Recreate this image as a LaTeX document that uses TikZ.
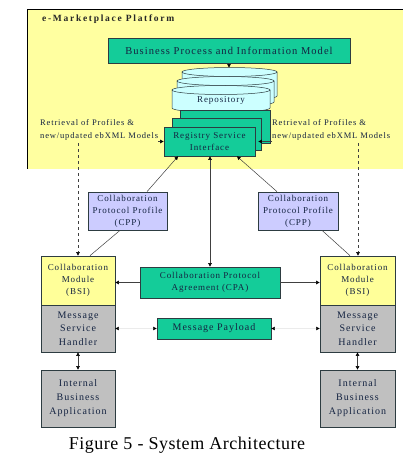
\documentclass[tikz,border=0pt]{standalone}
\usepackage{fontspec}
\setmainfont{Liberation Serif}
\newfontfamily\lab[LetterSpace=10]{Liberation Serif}
\newfontfamily\titlefont[LetterSpace=18]{Liberation Serif}
\newfontfamily\capfont[LetterSpace=3]{Liberation Serif}
\usetikzlibrary{arrows.meta}
\definecolor{ybg}{RGB}{255,255,160}
\definecolor{ybox}{RGB}{255,255,153}
\definecolor{teal}{RGB}{20,204,153}
\definecolor{cyl}{RGB}{204,255,255}
\definecolor{lav}{RGB}{204,204,255}
\definecolor{gbox}{RGB}{192,192,192}
\definecolor{txt}{RGB}{20,35,65}
\definecolor{bord}{RGB}{45,60,65}
\newcommand\drawcyl[4]{% x1 x2 ytop ybot
  \pgfmathsetmacro\cx{(#1+#2)/2}\pgfmathsetmacro\rx{(#2-#1)/2}
  \fill[cyl,draw=bord,line width=0.5pt] (#1,#3) -- (#1,#4) arc[start angle=180,end angle=360,x radius=\rx pt,y radius=4.5pt] -- (#2,#3) -- cycle;
  \fill[cyl,draw=bord,line width=0.5pt] (\cx,#3) ellipse[x radius=\rx pt,y radius=4.5pt];
}
\begin{document}
\begin{tikzpicture}[x=1pt,y=-1pt,
  box/.style={draw=bord,line width=0.7pt,inner sep=0pt,align=center,text=txt,
    font=\lab\fontsize{9}{12}\selectfont},
  tealbox/.style={box,fill=teal},
  ybx/.style={box,fill=ybox},
  gbx/.style={box,fill=gbox,font=\lab\fontsize{10}{13.5}\selectfont},
  lavbox/.style={box,fill=lav},
  arr/.style={draw=black!75,line width=0.5pt,-{Triangle[length=3.5pt,width=3.5pt,color=black]}},
  darr/.style={draw=black!75,line width=0.5pt,{Triangle[length=3.5pt,width=3.5pt,color=black]}-{Triangle[length=3.5pt,width=3.5pt,color=black]}},
  farr/.style={draw=black!8,line width=0.3pt,{Triangle[length=3.5pt,width=3.5pt,color=black]}-{Triangle[length=3.5pt,width=3.5pt,color=black]}},
  lbl/.style={anchor=west,align=left,inner sep=0pt,text=txt,font=\lab\fontsize{8.5}{13}\selectfont}]
\useasboundingbox (0,0) rectangle (403,455);
% platform
\fill[ybg] (27,9) rectangle (403,169);
\draw[line width=0.8pt] (403,9) -- (27,9) -- (27,169);
\node[anchor=west,inner sep=0pt,text=black!85,font=\titlefont\fontsize{9.5}{11}\selectfont\bfseries] (title) at (42,19) {e-Marketplace Platform};
\node[tealbox,minimum width=242pt,minimum height=25pt,font=\lab\fontsize{10.5}{12}\selectfont] (bp) at (229,50.5) {Business Process and Information Model};
% repository
\drawcyl{182}{277}{72}{96}
\drawcyl{177}{274}{81}{102}
\drawcyl{172}{270}{90}{108}
\node[inner sep=0pt,text=txt,font=\lab\fontsize{9}{11}\selectfont] (repo) at (221,100) {Repository};
\coordinate (repotop) at (229,67.5);
\draw[arr] (bp.south -| repotop) -- (repotop);
% registry stack
\node[tealbox,minimum width=90pt,minimum height=33pt] (rsib) at (225,126.5) {};
\node[tealbox,minimum width=89pt,minimum height=32pt] (rsim) at (216.5,134) {};
\node[tealbox,minimum width=91pt,minimum height=29pt] (rsi) at (209.5,141.5) {Registry Service\\Interface};
% retrieval labels
\node[lbl] (retl) at (40,130) {Retrieval of Profiles \&\\new/updated ebXML Models};
\node[lbl] (retr) at (272,130) {Retrieval of Profiles \&\\new/updated ebXML Models};
\draw[arr] (retl.east |- rsi.west) -- (rsi.west);
\draw[arr] (retr.west |- rsi.east) -- ([xshift=3pt]rsi.east);
% CPP
\node[lavbox,minimum width=79pt,minimum height=38pt] (cppl) at (127.5,211) {Collaboration\\Protocol Profile\\(CPP)};
\node[lavbox,minimum width=80pt,minimum height=38pt] (cppr) at (298,211) {Collaboration\\Protocol Profile\\(CPP)};
% modules
\node[ybx,minimum width=74pt,minimum height=49pt] (cml) at (78,280.5) {Collaboration\\Module\\(BSI)};
\node[ybx,minimum width=75pt,minimum height=49pt] (cmr) at (357.5,280.5) {Collaboration\\Module\\(BSI)};
\node[gbx,minimum width=74pt,minimum height=47pt] (mshl) at (78,328.5) {Message\\Service\\Handler};
\node[gbx,minimum width=75pt,minimum height=47pt] (mshr) at (357.5,328.5) {Message\\Service\\Handler};
\node[gbx,minimum width=74pt,minimum height=57pt,font=\lab\fontsize{10}{14}\selectfont] (ibal) at (78,398.5) {Internal\\Business\\Application};
\node[gbx,minimum width=75pt,minimum height=57pt,font=\lab\fontsize{10}{14}\selectfont] (ibar) at (357.5,398.5) {Internal\\Business\\Application};
% CPA and payload
\node[tealbox,minimum width=140pt,minimum height=31pt] (cpa) at (210,282.5) {Collaboration Protocol\\Agreement (CPA)};
\node[tealbox,minimum width=114pt,minimum height=21pt,font=\lab\fontsize{10}{12}\selectfont] (mp) at (214,328.5) {Message Payload};
% dashed
\coordinate (dl) at (78,143);
\coordinate (dr) at (358,143);
\draw[arr,dashed] (dl) -- (dl |- cml.north);
\draw[arr,dashed] (dr) -- (dr |- cmr.north);
% connectors
\draw[arr] ([xshift=19.5pt]cppl.north) -- ([xshift=-31.5pt]rsi.south);
\draw[arr] ([xshift=-21pt]cppr.north) -- ([xshift=27.5pt]rsi.south);
\draw[darr] ([xshift=0.5pt]rsi.south) -- ([xshift=0.5pt]rsi.south |- cpa.north);
\draw[draw=black!75,line width=0.5pt] ([xshift=-7.5pt]cppl.south) -- ([xshift=12pt]cml.north);
\draw[draw=black!75,line width=0.5pt] ([xshift=24pt]cppr.south) -- ([xshift=-7.5pt]cmr.north);
\draw[arr] (cpa.west) -- (cpa.west -| cml.east);
\draw[arr] (cpa.east) -- (cpa.east -| cmr.west);
\draw[farr] (mshl.east |- mp.west) -- (mp.west);
\draw[farr] (mp.east) -- (mshr.west |- mp.east);
\draw[darr] (mshl.south) -- (ibal.north);
\draw[darr] (mshr.south) -- (ibar.north);
% caption
\node[inner sep=0pt,anchor=base,font=\capfont\fontsize{18}{20}\selectfont] (cap) at (187,449.5) {Figure 5 - System Architecture};
\end{tikzpicture}
\end{document}
